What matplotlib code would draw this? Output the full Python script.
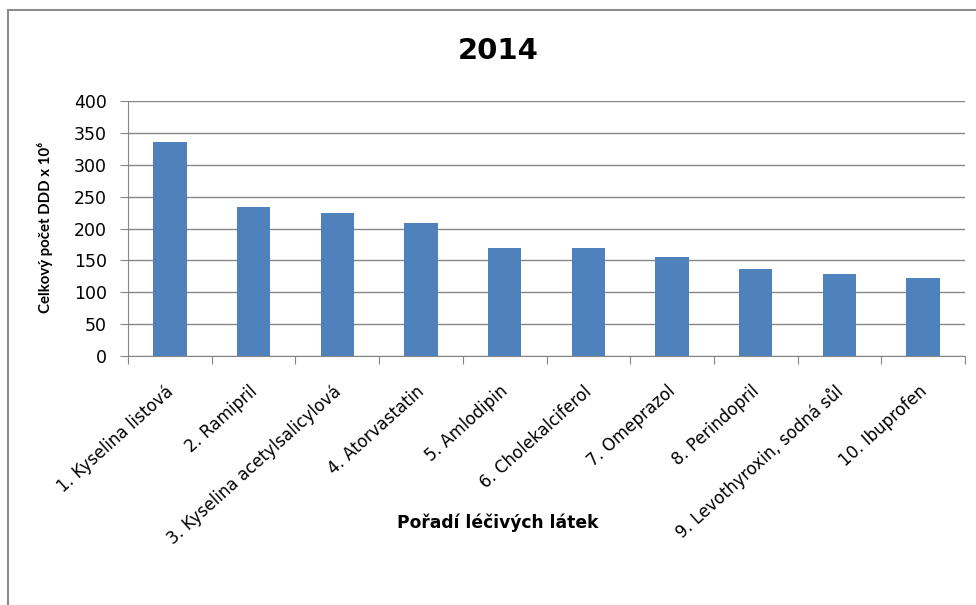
import matplotlib
matplotlib.use("Agg")
import matplotlib.pyplot as plt
import matplotlib.transforms as mtransforms
from matplotlib.lines import Line2D

plt.rcParams['font.family'] = ['DejaVu Sans']

# DDD totals per substance, 2014
substances = ["1. Kyselina listová", "2. Ramipril", "3. Kyselina acetylsalicylová",
              "4. Atorvastatin", "5. Amlodipin", "6. Cholekalciferol",
              "7. Omeprazol", "8. Perindopril", "9. Levothyroxin, sodná sůl",
              "10. Ibuprofen"]
ddd = [335, 233, 224, 208, 169, 169, 156, 137, 128, 123]
yticks = [0, 50, 100, 150, 200, 250, 300, 350, 400]

bar_col = "#4F81BD"
grid_col = "#868686"

fig = plt.figure(figsize=(9.76, 6.05), dpi=100)
ax = fig.add_axes([128/976, 1 - 356/605, 837/976, 255/605])

x = list(range(len(ddd)))
ax.bar(x, ddd, width=0.4, color=bar_col, zorder=3)

ax.set_xlim(-0.5, len(ddd) - 0.5)
ax.set_ylim(0, 400)
ax.set_yticks(yticks)
ax.yaxis.grid(True, color=grid_col, linewidth=1.0, zorder=0)
ax.tick_params(axis='y', labelsize=12.5, color=grid_col, length=6, pad=9)

# category tick marks sit between the bars
ax.set_xticks([i - 0.5 for i in range(len(ddd) + 1)], minor=False)
ax.set_xticklabels([])
ax.tick_params(axis='x', which='major', color=grid_col, length=6)
ax.set_xticks(x, minor=True)
ax.set_xticklabels(substances, minor=True, rotation=42, ha='right', va='top',
                   rotation_mode='anchor', fontsize=12)
ax.tick_params(axis='x', which='minor', length=0, pad=19)
shift = mtransforms.ScaledTranslation(-5/100, 0, fig.dpi_scale_trans)
for lbl in ax.get_xticklabels(minor=True):
    lbl.set_transform(lbl.get_transform() + shift)

for side in ['top', 'right']:
    ax.spines[side].set_visible(False)
for side in ['left', 'bottom']:
    ax.spines[side].set_color(grid_col)

fig.text(498/976, 1 - 51/605, "2014", ha='center', va='center',
         fontsize=21, fontweight='bold')
fig.text(45/976, 1 - 227/605, "Celkový počet DDD x 10⁶", rotation=90,
         ha='center', va='center', fontsize=10.8, fontweight='bold',
         family=['Lato', 'DejaVu Sans'])
fig.text(498/976, 1 - 523/605, "Pořadí léčivých látek", ha='center',
         va='center', fontsize=12.3, fontweight='bold')

# outer chart frame
fig.add_artist(Line2D([8/976, 8/976], [0, 1 - 10/605], transform=fig.transFigure,
                      color="#8c8c8c", linewidth=1.5))
fig.add_artist(Line2D([8/976, 1], [1 - 10/605, 1 - 10/605], transform=fig.transFigure,
                      color="#8c8c8c", linewidth=1.5))

fig.savefig("out.png", dpi=100)
